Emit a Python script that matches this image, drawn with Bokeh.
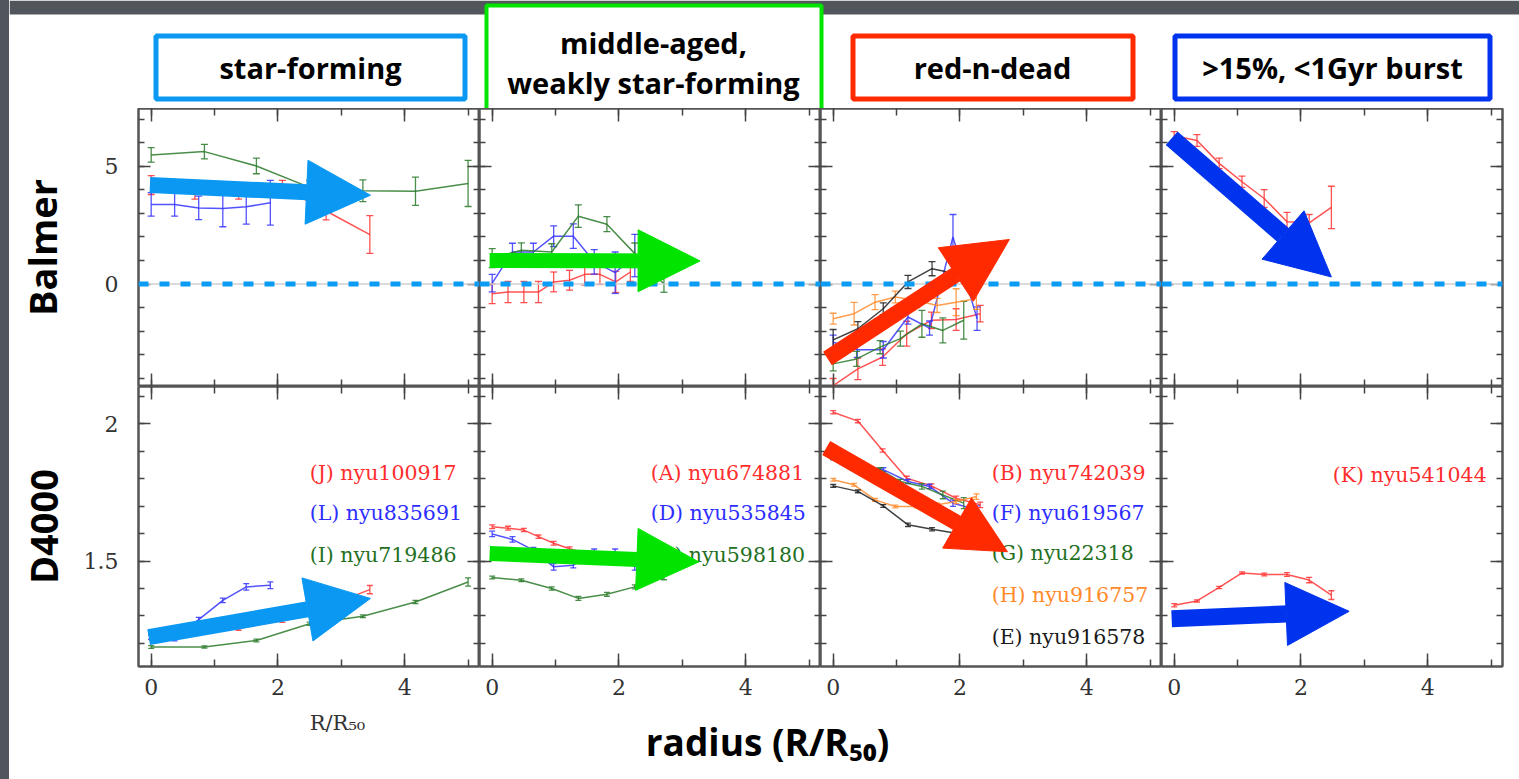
import numpy as np
from bokeh.plotting import figure
from bokeh.layouts import gridplot, column, row
from bokeh.models import (Range1d, LinearAxis, SingleIntervalTicker, PrintfTickFormatter,
                          Span, Arrow, NormalHead, Spacer)
from bokeh.core.properties import value
from bokeh.embed import file_html
from bokeh.resources import INLINE

# ---------------------------------------------------------------- data
# panel 1: star-forming
sf_red_x = [0.0, 0.69, 1.38, 2.07, 2.76, 3.45]
sf_red_balmer = [4.2, 3.9, 3.9, 4.1, 3.1, 2.1]
sf_red_balmer_err = [0.4, 0.3, 0.3, 0.3, 0.38, 0.8]
sf_red_d4000 = [1.222, 1.239, 1.254, 1.284, 1.335, 1.396]
sf_red_d4000_err = [0.008, 0.006, 0.006, 0.007, 0.008, 0.015]
sf_blue_x = [0.0, 0.37, 0.75, 1.13, 1.50, 1.88]
sf_blue_balmer = [3.38, 3.38, 3.23, 3.21, 3.28, 3.45]
sf_blue_balmer_err = [0.5, 0.5, 0.5, 0.78, 0.74, 0.95]
sf_blue_d4000 = [1.223, 1.217, 1.287, 1.357, 1.406, 1.412]
sf_blue_d4000_err = [0.008, 0.008, 0.008, 0.008, 0.012, 0.012]
sf_green_x = [0.0, 0.84, 1.66, 2.50, 3.34, 4.17, 5.0]
sf_green_balmer = [5.48, 5.62, 5.01, 4.1, 3.96, 3.94, 4.27]
sf_green_balmer_err = [0.31, 0.31, 0.33, 0.3, 0.46, 0.6, 0.98]
sf_green_d4000 = [1.187, 1.187, 1.211, 1.272, 1.299, 1.351, 1.424]
sf_green_d4000_err = [0.005, 0.004, 0.005, 0.006, 0.005, 0.006, 0.015]
sf_labels = ["(J) nyu100917", "(L) nyu835691", "(I) nyu719486"]

# panel 2: middle-aged, weakly star-forming
ma_red_x = [0.0, 0.25, 0.50, 0.73, 0.97, 1.22, 1.46, 1.70, 1.95, 2.18]
ma_red_balmer = [-0.41, -0.34, -0.34, -0.34, 0.09, 0.16, 0.41, 0.41, 0.09, 0.51]
ma_red_balmer_err = [0.42, 0.45, 0.45, 0.45, 0.42, 0.42, 0.45, 0.43, 0.45, 0.4]
ma_red_d4000 = [1.625, 1.620, 1.613, 1.589, 1.565, 1.545, 1.53, 1.52, 1.51, 1.50]
ma_red_d4000_err = [0.007, 0.007, 0.006, 0.006, 0.007, 0.007, 0.007, 0.007, 0.008, 0.008]
ma_blue_x = [0.0, 0.32, 0.65, 0.97, 1.28, 1.61, 1.94, 2.25]
ma_blue_balmer = [0.04, 1.36, 1.36, 2.03, 2.03, 0.94, 0.48, 1.21]
ma_blue_balmer_err = [0.37, 0.37, 0.37, 0.44, 0.52, 0.52, 0.88, 0.9]
ma_blue_d4000 = [1.599, 1.579, 1.54, 1.479, 1.485, 1.534, 1.534, 1.479]
ma_blue_d4000_err = [0.01, 0.01, 0.01, 0.012, 0.01, 0.01, 0.01, 0.012]
ma_green_x = [0.0, 0.46, 0.94, 1.36, 1.81, 2.25, 2.71]
ma_green_balmer = [1.1, 1.43, 1.36, 2.88, 2.54, 1.29, 0.0]
ma_green_balmer_err = [0.4, 0.32, 0.35, 0.48, 0.32, 0.45, 0.35]
ma_green_d4000 = [1.440, 1.430, 1.400, 1.364, 1.379, 1.406, 1.44]
ma_green_d4000_err = [0.005, 0.005, 0.006, 0.007, 0.007, 0.007, 0.008]
ma_labels = ["(A) nyu674881", "(D) nyu535845", "(C) nyu598180"]

# panel 3: red-n-dead
rd_red_x = [0.0, 0.39, 0.78, 1.16, 1.55, 1.94, 2.32]
rd_red_balmer = [-4.31, -3.6, -3.1, -2.11, -1.54, -1.51, -1.26]
rd_red_balmer_err = [0.3, 0.46, 0.35, 0.53, 0.35, 0.46, 0.35]
rd_red_d4000 = [2.042, 2.01, 1.903, 1.802, 1.774, 1.729, 1.705]
rd_red_d4000_err = [0.006, 0.006, 0.006, 0.007, 0.007, 0.008, 0.01]
rd_blue_x = [0.0, 0.38, 0.79, 1.18, 1.52, 1.89, 2.27]
rd_blue_balmer = [-2.47, -2.79, -2.79, -1.40, -1.87, 2.0, -1.47]
rd_blue_balmer_err = [0.3, 0.32, 0.35, 0.3, 0.3, 0.95, 0.5]
rd_blue_d4000 = [1.876, 1.851, 1.833, 1.79, 1.772, 1.711, 1.687]
rd_blue_d4000_err = [0.006, 0.006, 0.007, 0.008, 0.008, 0.012, 0.014]
rd_green_x = [0.0, 0.37, 0.74, 1.06, 1.40, 1.73, 2.06]
rd_green_balmer = [-3.39, -3.18, -2.68, -2.32, -1.69, -1.97, -1.54]
rd_green_balmer_err = [0.3, 0.32, 0.28, 0.32, 0.57, 0.53, 0.8]
rd_green_d4000 = [1.876, 1.863, 1.833, 1.79, 1.772, 1.741, 1.711]
rd_green_d4000_err = [0.006, 0.006, 0.007, 0.008, 0.01, 0.014, 0.02]
rd_orange_x = [0.0, 0.33, 0.66, 0.98, 1.32, 1.64, 1.94, 2.26]
rd_orange_balmer = [-1.47, -1.26, -0.77, -0.55, -0.7, -0.91, -0.77, -0.62]
rd_orange_balmer_err = [0.23, 0.48, 0.32, 0.25, 0.3, 0.3, 0.57, 0.46]
rd_orange_d4000 = [1.796, 1.778, 1.723, 1.699, 1.699, 1.705, 1.717, 1.735]
rd_orange_d4000_err = [0.005, 0.005, 0.005, 0.005, 0.005, 0.006, 0.008, 0.01]
rd_black_x = [0.0, 0.39, 0.79, 1.18, 1.56, 1.94]
rd_black_balmer = [-2.37, -1.90, -1.05, 0.09, 0.65, 0.44]
rd_black_balmer_err = [0.44, 0.3, 0.25, 0.28, 0.3, 0.3]
rd_black_d4000 = [1.774, 1.754, 1.701, 1.632, 1.616, 1.601]
rd_black_d4000_err = [0.005, 0.005, 0.005, 0.006, 0.006, 0.007]
rd_labels = ["(B) nyu742039", "(F) nyu619567", "(G) nyu22318", "(H) nyu916757", "(E) nyu916578"]

# panel 4: >15%, <1Gyr burst
bu_red_x = [0.0, 0.36, 0.71, 1.07, 1.42, 1.78, 2.13, 2.48]
bu_red_balmer = [6.29, 6.09, 5.12, 4.34, 3.63, 2.64, 2.6, 3.25]
bu_red_balmer_err = [0.18, 0.25, 0.22, 0.24, 0.38, 0.4, 0.35, 0.9]
bu_red_d4000 = [1.339, 1.355, 1.404, 1.457, 1.451, 1.451, 1.431, 1.376]
bu_red_d4000_err = [0.006, 0.004, 0.004, 0.004, 0.005, 0.007, 0.01, 0.016]
bu_labels = ["(K) nyu541044"]

headers = ["star-forming", "middle-aged,\nweakly star-forming", "red-n-dead", ">15%, <1Gyr burst"]
row_titles = ["Balmer", "D4000"]
x_title = "radius (R/R\u2085\u2080)"
x_title_small = "R/R\u2085\u2080"

# ---------------------------------------------------------------- styles / layout
GRAY = "#50565c"
AXC = "#555555"
TKC = "#444444"
RED, BLUE, GREEN, ORANGE, BLACK = "#ff3535", "#3535ff", "#2a7a2a", "#ff8c2e", "#202020"
LBL = {RED: "#ff2d2d", BLUE: "#2d2dff", GREEN: "#237023", ORANGE: "#ff8a2a", BLACK: "#1a1a1a"}
ARROW_COLORS = ["#0a98f2", "#00e400", "#ff2a00", "#0033ee"]
BOX_COLORS = ARROW_COLORS

X_RANGE = (-0.2, 5.18)
Y_RANGES = [(-4.35, 7.45), (1.116, 2.136)]
FRAME_W = 341
ROW_H = [278, 280]
LEFT_B, RIGHT_B, BOTTOM_B = 129, 17, 40
HEADER_H = 108
FOOTER_H = 779 - HEADER_H - ROW_H[0] - ROW_H[1] - BOTTOM_B
LABEL_Y = {3: [1.822, 1.676, 1.522], 5: [1.821, 1.674, 1.528, 1.376, 1.223], 1: [1.815]}

# arrows (x0, y0, x1, y1, head size, shaft width) per panel, row-major
ARROWS = [
    [(-0.02, 4.2, 3.46, 3.77, 64, 16), (-0.04, 1.0, 3.28, 0.98, 62, 15),
     (-0.09, -3.16, 2.78, 1.89, 64, 16), (-0.04, 6.19, 2.48, 0.30, 64, 18)],
    [(-0.04, 1.223, 3.46, 1.364, 64, 16), (-0.04, 1.528, 3.26, 1.497, 62, 15),
     (-0.11, 1.912, 2.75, 1.534, 58, 16), (-0.04, 1.290, 2.76, 1.317, 63, 17)],
]

panels = [
    [(RED, sf_red_x, sf_red_balmer, sf_red_balmer_err, sf_red_d4000, sf_red_d4000_err),
     (BLUE, sf_blue_x, sf_blue_balmer, sf_blue_balmer_err, sf_blue_d4000, sf_blue_d4000_err),
     (GREEN, sf_green_x, sf_green_balmer, sf_green_balmer_err, sf_green_d4000, sf_green_d4000_err)],
    [(RED, ma_red_x, ma_red_balmer, ma_red_balmer_err, ma_red_d4000, ma_red_d4000_err),
     (BLUE, ma_blue_x, ma_blue_balmer, ma_blue_balmer_err, ma_blue_d4000, ma_blue_d4000_err),
     (GREEN, ma_green_x, ma_green_balmer, ma_green_balmer_err, ma_green_d4000, ma_green_d4000_err)],
    [(RED, rd_red_x, rd_red_balmer, rd_red_balmer_err, rd_red_d4000, rd_red_d4000_err),
     (BLUE, rd_blue_x, rd_blue_balmer, rd_blue_balmer_err, rd_blue_d4000, rd_blue_d4000_err),
     (GREEN, rd_green_x, rd_green_balmer, rd_green_balmer_err, rd_green_d4000, rd_green_d4000_err),
     (ORANGE, rd_orange_x, rd_orange_balmer, rd_orange_balmer_err, rd_orange_d4000, rd_orange_d4000_err),
     (BLACK, rd_black_x, rd_black_balmer, rd_black_balmer_err, rd_black_d4000, rd_black_d4000_err)],
    [(RED, bu_red_x, bu_red_balmer, bu_red_balmer_err, bu_red_d4000, bu_red_d4000_err)],
]
panel_labels = [sf_labels, ma_labels, rd_labels, bu_labels]


def style_axis(ax, show, major_len, minor_len):
    ax.axis_line_color = AXC
    ax.axis_line_width = 2
    ax.major_tick_in = major_len
    ax.major_tick_out = 0
    ax.minor_tick_in = minor_len
    ax.minor_tick_out = 0
    ax.major_tick_line_color = TKC
    ax.minor_tick_line_color = TKC
    ax.major_tick_line_width = 1.5
    ax.minor_tick_line_width = 1.5
    if show:
        ax.major_label_text_font = "DejaVu Serif"
        ax.major_label_text_font_size = "22px"
        ax.major_label_text_color = "#333333"
    else:
        ax.major_label_text_color = None
        ax.major_label_text_font_size = "0px"
        ax.major_label_standoff = 0


def make_panel(ci, ri):
    is_bal = ri == 0
    p = figure(frame_width=FRAME_W, frame_height=ROW_H[ri],
               x_range=Range1d(*X_RANGE), y_range=Range1d(*Y_RANGES[ri]),
               x_axis_type=None, y_axis_type=None,
               output_backend="svg", toolbar_location=None,
               min_border=0,
               min_border_left=LEFT_B if ci == 0 else 0,
               min_border_right=RIGHT_B if ci == 3 else 0,
               min_border_top=0,
               min_border_bottom=BOTTOM_B if ri == 1 else 0,
               background_fill_color="white", border_fill_color="white",
               outline_line_color=AXC, outline_line_width=2)

    for loc in ["below", "above", "left", "right"]:
        is_x = loc in ("below", "above")
        if is_x:
            ticker = SingleIntervalTicker(interval=2, num_minor_ticks=2)
        elif is_bal:
            ticker = SingleIntervalTicker(interval=5, num_minor_ticks=5)
        else:
            ticker = SingleIntervalTicker(interval=0.5, num_minor_ticks=5)
        ax = LinearAxis(ticker=ticker, formatter=PrintfTickFormatter(format="%g"))
        show = (loc == "below" and ri == 1) or (loc == "left" and ci == 0)
        style_axis(ax, show, 13 if is_x else 12, 7 if is_x else 6)
        if loc == "below" and ri == 1:
            ax.major_label_standoff = 12
        if loc == "left" and ci == 0:
            ax.major_label_standoff = 20
            ax.axis_label = row_titles[ri]
            ax.axis_label_text_font = "Open Sans"
            ax.axis_label_text_font_style = "bold"
            ax.axis_label_text_font_size = "38px"
            ax.axis_label_text_color = "black"
            ax.axis_label_standoff = 34 if is_bal else 12
        p.add_layout(ax, loc)

    if is_bal:
        p.add_layout(Span(location=0, dimension="width", line_color="#cfcfcf", line_width=1.5))
        p.add_layout(Span(location=0, dimension="width", line_color="#0a9cf5",
                          line_width=5, line_dash="10 11"))

    cap = 7 if is_bal else 6
    for color, xs, yb, eb, yd, ed in panels[ci]:
        ys = np.array(yb if is_bal else yd)
        es = np.array(eb if is_bal else ed)
        lo, hi = ys - es, ys + es
        p.segment(x0=xs, y0=lo, x1=xs, y1=hi, line_color=color, line_width=1.3, line_alpha=0.85)
        p.scatter(x=list(xs) + list(xs), y=list(lo) + list(hi), marker="dash", size=cap,
                  line_color=color, line_width=1.3, line_alpha=0.85)
        p.line(xs, ys, line_color=color, line_width=1.5, line_alpha=0.85)

    if not is_bal:
        labs = panel_labels[ci]
        ly = LABEL_Y[len(labs)]
        cols = [LBL[s[0]] for s in panels[ci]][:len(labs)]
        p.text(x=[2.5] * len(labs), y=ly, text=labs, text_color=cols,
               text_font=value("DejaVu Serif"), text_font_size="20.5px",
               text_align="left", text_baseline="middle")

    x0, y0, x1, y1, hs, lw = ARROWS[ri][ci]
    c = ARROW_COLORS[ci]
    p.add_layout(Arrow(end=NormalHead(size=hs, fill_color=c, line_color=c, line_width=1),
                       x_start=x0, y_start=y0, x_end=x1, y_end=y1,
                       line_color=c, line_width=lw))
    return p


grid = gridplot([[make_panel(ci, ri) for ci in range(4)] for ri in range(2)],
                toolbar_location=None)

# ---------------------------------------------------------------- header
hdr = figure(width=1510, height=HEADER_H, x_range=Range1d(9, 1519), y_range=Range1d(HEADER_H, 0),
             x_axis_type=None, y_axis_type=None, output_backend="svg", toolbar_location=None,
             min_border=0, outline_line_color=None,
             background_fill_color="white", border_fill_color="white")
hdr.quad(left=9, right=1519, top=0, bottom=14, fill_color=GRAY, line_color=None)
BOXES = [(155.5, 464.5, 35.5, 98.5, 5), (486, 821, 5, 114, 4),
         (852.5, 1132.5, 35.5, 98.5, 5), (1174.5, 1489.5, 35.5, 98.5, 5)]
for (l, r, t, b, lw), c in zip(BOXES, BOX_COLORS):
    hdr.quad(left=l, right=r, top=t, bottom=b, fill_color="white", line_color=c, line_width=lw)
HDR_POS = [(310, 67), (653, 62), (992, 67), (1332, 67)]
for (hx, hy), txt in zip(HDR_POS, headers):
    hdr.text(x=[hx], y=[hy], text=[txt], text_align="center", text_baseline="middle",
             text_font=value("Open Sans"), text_font_style="bold", text_font_size="29px",
             text_color="black", text_line_height=1.05)

# ---------------------------------------------------------------- footer
top_f = 779 - FOOTER_H
ftr = figure(width=1510, height=FOOTER_H, x_range=Range1d(9, 1519), y_range=Range1d(779, top_f),
             x_axis_type=None, y_axis_type=None, output_backend="svg", toolbar_location=None,
             min_border=0, outline_line_color=None,
             background_fill_color="white", border_fill_color="white")
ftr.text(x=[337], y=[722], text=[x_title_small], text_align="center", text_baseline="middle",
         text_font=value("DejaVu Serif"), text_font_size="21px", text_color="#333333")
ftr.text(x=[767], y=[741], text=[x_title], text_align="center", text_baseline="middle",
         text_font=value("Open Sans"), text_font_style="bold", text_font_size="37px",
         text_color="black")

root = row(Spacer(width=9, height=779, styles={"background-color": GRAY}),
           column(hdr, grid, ftr))

open("out.html", "w").write(file_html(root, INLINE))
